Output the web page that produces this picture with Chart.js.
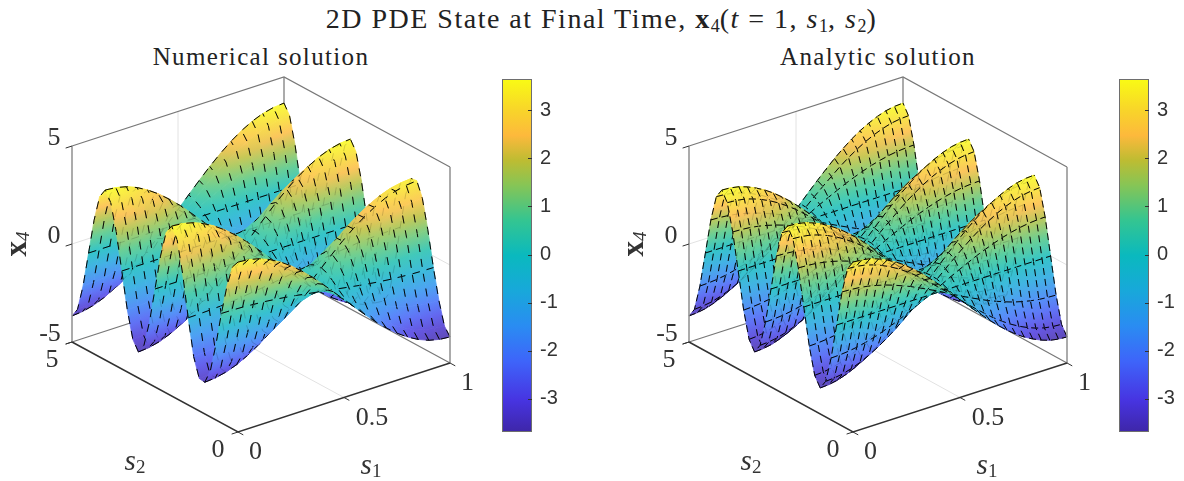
<!DOCTYPE html>
<html>
<head>
<meta charset="utf-8">
<script src="https://cdn.jsdelivr.net/npm/chart.js@4/dist/chart.umd.js"></script>
<style>
  body { margin: 0; background: #fff; }
  #page { position: relative; width: 1184px; height: 481px; overflow: hidden; }
  canvas { position: absolute; }
  .head { position: absolute; text-align: center; white-space: nowrap; color: #222;
          font-family: "Liberation Serif", serif; font-size: 25px; letter-spacing: 1.35px; line-height: 30px; }
  .head.main { font-size: 28px; letter-spacing: 1.5px; }
  .head sub { font-size: 18px; vertical-align: -4px; line-height: 0; letter-spacing: 0; }
</style>
</head>
<body>
<div id="page">
  <div class="head main" style="left:0;width:1203px;top:4px">2D PDE State at Final Time, <b>x</b><sub>4</sub>(<i>t</i> = 1, <i>s</i><sub>1</sub>, <i>s</i><sub>2</sub>)</div>
  <div class="head" style="left:0;width:522px;top:42px">Numerical solution</div>
  <div class="head" style="left:0;width:1756px;top:42px">Analytic solution</div>
  <canvas id="numerical" width="495" height="481" style="left:0;top:0"></canvas>
  <canvas id="analytic" width="500" height="481" style="left:610px;top:0"></canvas>
  <canvas id="barLeft" width="80" height="353" style="left:502px;top:79px"></canvas>
  <canvas id="barRight" width="65" height="353" style="left:1119px;top:79px"></canvas>
</div>
<script>
const s2Grid = [0,.167,.333,.5,.667,.833,1,1.167,1.333,1.5,1.667,1.833,2,2.167,2.333,2.5,2.667,2.833,3,3.167,3.333,3.5,3.667,3.833,4,4.167,4.333,4.5,4.667,4.833,5];
const s1Numerical = [0,.05,.1,.15,.2,.25,.3,.35,.4,.45,.5,.55,.6,.65,.7,.75,.8,.85,.9,.95,1];
const s1Analytic = [0,.04,.08,.12,.16,.2,.24,.28,.32,.36,.4,.44,.48,.52,.56,.6,.64,.68,.72,.76,.8,.84,.88,.92,.96,1];

const s1Ticks = [0, 0.5, 1];
const s2Ticks = [0, 5];
const zTicks = [-5, 0, 5];
const colorbarTicks = [-3, -2, -1, 0, 1, 2, 3];
const colorbarMin = -3.69;
const colorbarMax = 3.65;

// x4, one row per s1 value
const numericalZ = [
[3.67,3.27,2.13,.59,-1.17,-2.64,-3.38,-3.34,-2.39,-.55,1.54,3.12,3.67,3.18,1.84,0,-1.84,-3.18,-3.67,-3.18,-1.84,0,1.84,3.18,3.67,3.18,1.84,0,-1.84,-3.18,-3.67],
[3.62,3.22,2.10,.58,-1.16,-2.61,-3.33,-3.29,-2.35,-.54,1.52,3.08,3.62,3.13,1.81,0,-1.81,-3.13,-3.62,-3.13,-1.81,0,1.81,3.13,3.62,3.13,1.81,0,-1.81,-3.13,-3.62],
[3.49,3.11,2.02,.56,-1.12,-2.51,-3.21,-3.18,-2.27,-.52,1.47,2.97,3.49,3.02,1.75,0,-1.75,-3.02,-3.49,-3.02,-1.75,0,1.75,3.02,3.49,3.02,1.75,0,-1.75,-3.02,-3.49],
[3.27,2.91,1.90,.52,-1.05,-2.35,-3.01,-2.98,-2.13,-.49,1.37,2.78,3.27,2.83,1.64,0,-1.64,-2.83,-3.27,-2.83,-1.64,0,1.64,2.83,3.27,2.83,1.64,0,-1.64,-2.83,-3.27],
[2.97,2.64,1.72,.48,-.95,-2.14,-2.73,-2.70,-1.93,-.45,1.25,2.52,2.97,2.57,1.49,0,-1.49,-2.57,-2.97,-2.57,-1.49,0,1.49,2.57,2.97,2.57,1.49,0,-1.49,-2.57,-2.97],
[2.60,2.31,1.51,.42,-.83,-1.87,-2.39,-2.37,-1.69,-.39,1.09,2.21,2.60,2.25,1.30,0,-1.30,-2.25,-2.60,-2.25,-1.30,0,1.30,2.25,2.60,2.25,1.30,0,-1.30,-2.25,-2.60],
[2.16,1.92,1.25,.35,-.69,-1.56,-1.99,-1.97,-1.40,-.32,.91,1.84,2.16,1.87,1.08,0,-1.08,-1.87,-2.16,-1.87,-1.08,0,1.08,1.87,2.16,1.87,1.08,0,-1.08,-1.87,-2.16],
[1.67,1.49,.97,.27,-.53,-1.20,-1.54,-1.52,-1.09,-.25,.70,1.42,1.67,1.45,.84,0,-.84,-1.45,-1.67,-1.45,-.84,0,.84,1.45,1.67,1.45,.84,0,-.84,-1.45,-1.67],
[1.13,1.01,.66,.18,-.36,-.81,-1.04,-1.03,-.73,-.17,.47,.96,1.13,.98,.57,0,-.57,-.98,-1.13,-.98,-.57,0,.57,.98,1.13,.98,.57,0,-.57,-.98,-1.13],
[.57,.51,.33,.09,-.18,-.41,-.52,-.52,-.37,-.09,.24,.48,.57,.49,.29,0,-.29,-.49,-.57,-.49,-.29,0,.29,.49,.57,.49,.29,0,-.29,-.49,-.57],
[0,0,0,0,0,0,0,0,0,0,0,0,0,0,0,0,0,0,0,0,0,0,0,0,0,0,0,0,0,0,0],
[-.57,-.51,-.33,-.09,.18,.41,.52,.52,.37,.09,-.24,-.48,-.57,-.49,-.29,0,.29,.49,.57,.49,.29,0,-.29,-.49,-.57,-.49,-.29,0,.29,.49,.57],
[-1.13,-1.01,-.66,-.18,.36,.81,1.04,1.03,.73,.17,-.47,-.96,-1.13,-.98,-.57,0,.57,.98,1.13,.98,.57,0,-.57,-.98,-1.13,-.98,-.57,0,.57,.98,1.13],
[-1.67,-1.49,-.97,-.27,.53,1.20,1.54,1.52,1.09,.25,-.70,-1.42,-1.67,-1.45,-.84,0,.84,1.45,1.67,1.45,.84,0,-.84,-1.45,-1.67,-1.45,-.84,0,.84,1.45,1.67],
[-2.16,-1.92,-1.25,-.35,.69,1.56,1.99,1.97,1.40,.32,-.91,-1.84,-2.16,-1.87,-1.08,0,1.08,1.87,2.16,1.87,1.08,0,-1.08,-1.87,-2.16,-1.87,-1.08,0,1.08,1.87,2.16],
[-2.60,-2.31,-1.51,-.42,.83,1.87,2.39,2.37,1.69,.39,-1.09,-2.21,-2.60,-2.25,-1.30,0,1.30,2.25,2.60,2.25,1.30,0,-1.30,-2.25,-2.60,-2.25,-1.30,0,1.30,2.25,2.60],
[-2.97,-2.64,-1.72,-.48,.95,2.14,2.73,2.70,1.93,.45,-1.25,-2.52,-2.97,-2.57,-1.49,0,1.49,2.57,2.97,2.57,1.49,0,-1.49,-2.57,-2.97,-2.57,-1.49,0,1.49,2.57,2.97],
[-3.27,-2.91,-1.90,-.52,1.05,2.35,3.01,2.98,2.13,.49,-1.37,-2.78,-3.27,-2.83,-1.64,0,1.64,2.83,3.27,2.83,1.64,0,-1.64,-2.83,-3.27,-2.83,-1.64,0,1.64,2.83,3.27],
[-3.49,-3.11,-2.02,-.56,1.12,2.51,3.21,3.18,2.27,.52,-1.47,-2.97,-3.49,-3.02,-1.75,0,1.75,3.02,3.49,3.02,1.75,0,-1.75,-3.02,-3.49,-3.02,-1.75,0,1.75,3.02,3.49],
[-3.62,-3.22,-2.10,-.58,1.16,2.61,3.33,3.29,2.35,.54,-1.52,-3.08,-3.62,-3.13,-1.81,0,1.81,3.13,3.62,3.13,1.81,0,-1.81,-3.13,-3.62,-3.13,-1.81,0,1.81,3.13,3.62],
[-3.67,-3.27,-2.13,-.59,1.17,2.64,3.38,3.34,2.39,.55,-1.54,-3.12,-3.67,-3.18,-1.84,0,1.84,3.18,3.67,3.18,1.84,0,-1.84,-3.18,-3.67,-3.18,-1.84,0,1.84,3.18,3.67]
];

// x4, one row per s1 value
const analyticZ = [
[3.67,3.18,1.84,0,-1.84,-3.18,-3.67,-3.18,-1.84,0,1.84,3.18,3.67,3.18,1.84,0,-1.84,-3.18,-3.67,-3.18,-1.84,0,1.84,3.18,3.67,3.18,1.84,0,-1.84,-3.18,-3.67],
[3.64,3.15,1.82,0,-1.82,-3.15,-3.64,-3.15,-1.82,0,1.82,3.15,3.64,3.15,1.82,0,-1.82,-3.15,-3.64,-3.15,-1.82,0,1.82,3.15,3.64,3.15,1.82,0,-1.82,-3.15,-3.64],
[3.56,3.08,1.78,0,-1.78,-3.08,-3.56,-3.08,-1.78,0,1.78,3.08,3.56,3.08,1.78,0,-1.78,-3.08,-3.56,-3.08,-1.78,0,1.78,3.08,3.56,3.08,1.78,0,-1.78,-3.08,-3.56],
[3.41,2.95,1.71,0,-1.71,-2.95,-3.41,-2.95,-1.71,0,1.71,2.95,3.41,2.95,1.71,0,-1.71,-2.95,-3.41,-2.95,-1.71,0,1.71,2.95,3.41,2.95,1.71,0,-1.71,-2.95,-3.41],
[3.21,2.78,1.61,0,-1.61,-2.78,-3.21,-2.78,-1.61,0,1.61,2.78,3.21,2.78,1.61,0,-1.61,-2.78,-3.21,-2.78,-1.61,0,1.61,2.78,3.21,2.78,1.61,0,-1.61,-2.78,-3.21],
[2.97,2.57,1.49,0,-1.49,-2.57,-2.97,-2.57,-1.49,0,1.49,2.57,2.97,2.57,1.49,0,-1.49,-2.57,-2.97,-2.57,-1.49,0,1.49,2.57,2.97,2.57,1.49,0,-1.49,-2.57,-2.97],
[2.68,2.32,1.34,0,-1.34,-2.32,-2.68,-2.32,-1.34,0,1.34,2.32,2.68,2.32,1.34,0,-1.34,-2.32,-2.68,-2.32,-1.34,0,1.34,2.32,2.68,2.32,1.34,0,-1.34,-2.32,-2.68],
[2.34,2.03,1.17,0,-1.17,-2.03,-2.34,-2.03,-1.17,0,1.17,2.03,2.34,2.03,1.17,0,-1.17,-2.03,-2.34,-2.03,-1.17,0,1.17,2.03,2.34,2.03,1.17,0,-1.17,-2.03,-2.34],
[1.97,1.71,.99,0,-.99,-1.71,-1.97,-1.71,-.99,0,.99,1.71,1.97,1.71,.99,0,-.99,-1.71,-1.97,-1.71,-.99,0,.99,1.71,1.97,1.71,.99,0,-.99,-1.71,-1.97],
[1.56,1.35,.78,0,-.78,-1.35,-1.56,-1.35,-.78,0,.78,1.35,1.56,1.35,.78,0,-.78,-1.35,-1.56,-1.35,-.78,0,.78,1.35,1.56,1.35,.78,0,-.78,-1.35,-1.56],
[1.13,.98,.57,0,-.57,-.98,-1.13,-.98,-.57,0,.57,.98,1.13,.98,.57,0,-.57,-.98,-1.13,-.98,-.57,0,.57,.98,1.13,.98,.57,0,-.57,-.98,-1.13],
[.69,.60,.35,0,-.35,-.60,-.69,-.60,-.35,0,.35,.60,.69,.60,.35,0,-.35,-.60,-.69,-.60,-.35,0,.35,.60,.69,.60,.35,0,-.35,-.60,-.69],
[.23,.20,.12,0,-.12,-.20,-.23,-.20,-.12,0,.12,.20,.23,.20,.12,0,-.12,-.20,-.23,-.20,-.12,0,.12,.20,.23,.20,.12,0,-.12,-.20,-.23],
[-.23,-.20,-.12,0,.12,.20,.23,.20,.12,0,-.12,-.20,-.23,-.20,-.12,0,.12,.20,.23,.20,.12,0,-.12,-.20,-.23,-.20,-.12,0,.12,.20,.23],
[-.69,-.60,-.35,0,.35,.60,.69,.60,.35,0,-.35,-.60,-.69,-.60,-.35,0,.35,.60,.69,.60,.35,0,-.35,-.60,-.69,-.60,-.35,0,.35,.60,.69],
[-1.13,-.98,-.57,0,.57,.98,1.13,.98,.57,0,-.57,-.98,-1.13,-.98,-.57,0,.57,.98,1.13,.98,.57,0,-.57,-.98,-1.13,-.98,-.57,0,.57,.98,1.13],
[-1.56,-1.35,-.78,0,.78,1.35,1.56,1.35,.78,0,-.78,-1.35,-1.56,-1.35,-.78,0,.78,1.35,1.56,1.35,.78,0,-.78,-1.35,-1.56,-1.35,-.78,0,.78,1.35,1.56],
[-1.97,-1.71,-.99,0,.99,1.71,1.97,1.71,.99,0,-.99,-1.71,-1.97,-1.71,-.99,0,.99,1.71,1.97,1.71,.99,0,-.99,-1.71,-1.97,-1.71,-.99,0,.99,1.71,1.97],
[-2.34,-2.03,-1.17,0,1.17,2.03,2.34,2.03,1.17,0,-1.17,-2.03,-2.34,-2.03,-1.17,0,1.17,2.03,2.34,2.03,1.17,0,-1.17,-2.03,-2.34,-2.03,-1.17,0,1.17,2.03,2.34],
[-2.68,-2.32,-1.34,0,1.34,2.32,2.68,2.32,1.34,0,-1.34,-2.32,-2.68,-2.32,-1.34,0,1.34,2.32,2.68,2.32,1.34,0,-1.34,-2.32,-2.68,-2.32,-1.34,0,1.34,2.32,2.68],
[-2.97,-2.57,-1.49,0,1.49,2.57,2.97,2.57,1.49,0,-1.49,-2.57,-2.97,-2.57,-1.49,0,1.49,2.57,2.97,2.57,1.49,0,-1.49,-2.57,-2.97,-2.57,-1.49,0,1.49,2.57,2.97],
[-3.21,-2.78,-1.61,0,1.61,2.78,3.21,2.78,1.61,0,-1.61,-2.78,-3.21,-2.78,-1.61,0,1.61,2.78,3.21,2.78,1.61,0,-1.61,-2.78,-3.21,-2.78,-1.61,0,1.61,2.78,3.21],
[-3.41,-2.95,-1.71,0,1.71,2.95,3.41,2.95,1.71,0,-1.71,-2.95,-3.41,-2.95,-1.71,0,1.71,2.95,3.41,2.95,1.71,0,-1.71,-2.95,-3.41,-2.95,-1.71,0,1.71,2.95,3.41],
[-3.56,-3.08,-1.78,0,1.78,3.08,3.56,3.08,1.78,0,-1.78,-3.08,-3.56,-3.08,-1.78,0,1.78,3.08,3.56,3.08,1.78,0,-1.78,-3.08,-3.56,-3.08,-1.78,0,1.78,3.08,3.56],
[-3.64,-3.15,-1.82,0,1.82,3.15,3.64,3.15,1.82,0,-1.82,-3.15,-3.64,-3.15,-1.82,0,1.82,3.15,3.64,3.15,1.82,0,-1.82,-3.15,-3.64,-3.15,-1.82,0,1.82,3.15,3.64],
[-3.67,-3.18,-1.84,0,1.84,3.18,3.67,3.18,1.84,0,-1.84,-3.18,-3.67,-3.18,-1.84,0,1.84,3.18,3.67,3.18,1.84,0,-1.84,-3.18,-3.67,-3.18,-1.84,0,1.84,3.18,3.67]
];

// parula as it shows on the colorbar, bottom to top
const parulaStops = [
  [0, 62, 38, 168], [.09, 71, 52, 225], [.2, 62, 100, 250], [.3, 42, 140, 242], [.4, 24, 168, 218],
  [.5, 10, 185, 190], [.6, 52, 197, 145], [.7, 135, 197, 85], [.77, 190, 188, 50], [.84, 253, 185, 60],
  [.91, 248, 212, 42], [1, 249, 251, 20]
];
const faceLighten = 0.17;

function parula(t, lighten) {
  t = Math.min(1, Math.max(0, t));
  let j = 0;
  while (j < parulaStops.length - 2 && t > parulaStops[j + 1][0]) j++;
  const a = parulaStops[j], b = parulaStops[j + 1];
  const u = (t - a[0]) / (b[0] - a[0]);
  const c = [1, 2, 3].map((n) => a[n] + (b[n] - a[n]) * u).map((v) => Math.round(v + (255 - v) * lighten));
  return `rgb(${c[0]},${c[1]},${c[2]})`;
}
const zColor = (z) => parula((z - colorbarMin) / (colorbarMax - colorbarMin), faceLighten);

// box orientation in the picture, one per panel
const projections = {
  numerical: { x0: 238, y0: 432, s1x: 212, s2x: 33.2, s1y: 69, s2y: 18, zy: 19.6 },
  analytic: { x0: 243, y0: 432, s1x: 214, s2x: 32.8, s1y: 69, s2y: 18, zy: 19.6 },
};

function project(p, s1, s2, z) {
  return {
    x: p.x0 + p.s1x * s1 - p.s2x * s2,
    y: p.y0 - p.s1y * s1 - p.s2y * s2 - p.zy * (z + 5),
  };
}

const gradientCtx = document.createElement("canvas").getContext("2d");

// colour of a quad runs along the z gradient of its plane, so the bands stay smooth
function faceFill(pts, zs) {
  const ux = (pts[1].x - pts[0].x + pts[2].x - pts[3].x) / 2;
  const uy = (pts[1].y - pts[0].y + pts[2].y - pts[3].y) / 2;
  const vx = (pts[3].x - pts[0].x + pts[2].x - pts[1].x) / 2;
  const vy = (pts[3].y - pts[0].y + pts[2].y - pts[1].y) / 2;
  const dzu = (zs[1] - zs[0] + zs[2] - zs[3]) / 2;
  const dzv = (zs[3] - zs[0] + zs[2] - zs[1]) / 2;
  const det = ux * vy - uy * vx;
  const zMid = (zs[0] + zs[1] + zs[2] + zs[3]) / 4;
  if (Math.abs(det) < 1) return zColor(zMid);
  const gx = (dzu * vy - dzv * uy) / det;
  const gy = (ux * dzv - vx * dzu) / det;
  const g2 = gx * gx + gy * gy;
  if (g2 < 1e-6) return zColor(zMid);
  const cx = (pts[0].x + pts[1].x + pts[2].x + pts[3].x) / 4;
  const cy = (pts[0].y + pts[1].y + pts[2].y + pts[3].y) / 4;
  const zLo = Math.min(...zs), zHi = Math.max(...zs);
  const grad = gradientCtx.createLinearGradient(
    cx + (zLo - zMid) * gx / g2, cy + (zLo - zMid) * gy / g2,
    cx + (zHi - zMid) * gx / g2, cy + (zHi - zMid) * gy / g2
  );
  grad.addColorStop(0, zColor(zLo));
  grad.addColorStop(0.5, zColor((zLo + zHi) / 2));
  grad.addColorStop(1, zColor(zHi));
  return grad;
}

function lineSet(points, color, width, dash, offset) {
  return {
    data: points, showLine: true, pointRadius: 0, tension: 0, fill: false,
    borderColor: color, borderWidth: width, borderDash: dash || [], borderDashOffset: offset || 0,
  };
}

// back to front: walls, then the surface quad by quad, then the front edges
function buildLayers(p, s1Grid, zGrid, s2LineEvery, dash) {
  const layers = [];
  const at = (a, b, c) => project(p, a, b, c);
  const wall = "rgb(226,226,226)", back = "rgb(120,120,120)", vert = "rgb(150,150,150)", front = "rgb(50,50,50)";

  layers.push(lineSet([at(0.5, 0, -5), at(0.5, 5, -5)], wall, 1));
  layers.push(lineSet([at(0.5, 5, -5), at(0.5, 5, 5)], wall, 1));
  layers.push(lineSet([at(0, 5, 0), at(1, 5, 0), at(1, 0, 0)], wall, 1));
  layers.push(lineSet([at(0, 5, -5), at(1, 5, -5), at(1, 0, -5)], back, 1.2));
  layers.push(lineSet([at(1, 5, -5), at(1, 5, 5)], vert, 1.6));
  layers.push(lineSet([at(0, 5, 5), at(1, 5, 5), at(1, 0, 5)], back, 1.2));

  const n1 = s1Grid.length, n2 = s2Grid.length;
  const pt = s1Grid.map((a, i) => s2Grid.map((b, k) => at(a, b, zGrid[i][k])));
  const dist = (a, b) => Math.hypot(a.x - b.x, a.y - b.y);

  // dash phase carried along each mesh line so the dashes do not restart per quad
  const alongS2 = pt.map((row) => {
    let sum = 0;
    return row.map((q, k) => (k ? (sum += dist(q, row[k - 1])) : 0));
  });
  const alongS1 = s2Grid.map((_, k) => {
    let sum = 0;
    return s1Grid.map((_, i) => (i ? (sum += dist(pt[i][k], pt[i - 1][k])) : 0));
  });
  const meshColor = "rgba(0,0,0,0.95)";
  const s1Edge = (i, k) => lineSet([pt[i][k], pt[i][k + 1]], meshColor, 1, dash, alongS2[i][k]);
  const s2Edge = (i, k) => lineSet([pt[i][k], pt[i + 1][k]], meshColor, 1, dash, alongS1[k][i]);

  for (let i = n1 - 2; i >= 0; i--) {
    for (let k = n2 - 2; k >= 0; k--) {
      const corners = [pt[i][k], pt[i + 1][k], pt[i + 1][k + 1], pt[i][k + 1]];
      const zs = [zGrid[i][k], zGrid[i + 1][k], zGrid[i + 1][k + 1], zGrid[i][k + 1]];
      const fillStyle = faceFill(corners, zs);
      layers.push({
        data: [...corners, corners[0]], showLine: true, pointRadius: 0, tension: 0, fill: "shape",
        backgroundColor: fillStyle, borderColor: fillStyle, borderWidth: 0.8,
      });
      layers.push(s1Edge(i + 1, k));
      if ((k + 1) % s2LineEvery === 0) layers.push(s2Edge(i, k + 1));
      if (i === 0) layers.push(s1Edge(0, k));
      if (k === 0) layers.push(s2Edge(i, 0));
    }
  }

  // surface is see-through in the reference, hidden mesh shows faintly
  const ghost = "rgba(0,0,0,0.15)";
  pt.forEach((row) => layers.push(lineSet(row, ghost, 1, dash)));
  s2Grid.forEach((_, k) => {
    if (k % s2LineEvery === 0) layers.push(lineSet(pt.map((row) => row[k]), ghost, 1, dash));
  });

  layers.push(lineSet([at(0, 5, -5), at(0, 5, 5)], vert, 1.6));
  layers.push(lineSet([at(1, 0, -5), at(1, 0, 5)], vert, 1.6));
  layers.push(lineSet([at(0, 5, -5), at(0, 0, -5), at(1, 0, -5)], front, 1.5));

  s1Ticks.forEach((v) => layers.push(lineSet([at(v, 0, -5), at(v, -0.16, -5)], front, 1)));
  s2Ticks.forEach((v) => layers.push(lineSet([at(0, v, -5), at(-0.03, v, -5)], front, 1)));
  zTicks.forEach((v) => layers.push(lineSet([at(0, 5, v), at(-0.03, 5, v)], front, 1)));

  // first dataset in the list is drawn last
  return layers.reverse();
}

function mathLabel(ctx, main, mainFont, sub, subFont, x, y) {
  ctx.font = mainFont;
  const w1 = ctx.measureText(main).width;
  ctx.font = subFont;
  const w2 = ctx.measureText(sub).width;
  ctx.textAlign = "left";
  ctx.font = mainFont;
  ctx.fillText(main, x - (w1 + w2) / 2, y);
  ctx.font = subFont;
  ctx.fillText(sub, x - (w1 + w2) / 2 + w1, y + 6);
}

const axisText = {
  id: "axisText",
  afterDraw(chart, _, opts) {
    const p = opts.projection;
    const { x: sx, y: sy } = chart.scales;
    const place = (a, b, c, dx, dy) => {
      const q = project(p, a, b, c);
      return [sx.getPixelForValue(q.x) + dx, sy.getPixelForValue(q.y) + dy];
    };
    const ctx = chart.ctx;
    ctx.save();
    ctx.fillStyle = "#333";
    ctx.textBaseline = "middle";
    ctx.textAlign = "center";
    ctx.font = '26px "Liberation Serif"';
    zTicks.forEach((v) => ctx.fillText(String(v), ...place(0, 5, v, v < 0 ? -22 : -18, -7.5)));
    s2Ticks.forEach((v) => ctx.fillText(String(v), ...place(0, v, -5, -20, 18.5)));
    s1Ticks.forEach((v) => {
      const off = v === 0.5 ? [28, 20.5] : [17.5, 20.5];
      ctx.fillText(String(v), ...place(v, 0, -5, off[0], off[1]));
    });
    const sMain = 'italic 29px "Liberation Serif"', sSub = '19px "Liberation Serif"';
    mathLabel(ctx, "s", sMain, "1", sSub, ...place(0.5, 0, -5, 27, 69));
    mathLabel(ctx, "s", sMain, "2", sSub, ...place(0, 2.5, -5, -20, 75));
    const [lx, ly] = place(0, 5, 0, -54, 0);
    ctx.translate(lx, ly);
    ctx.rotate(-Math.PI / 2);
    mathLabel(ctx, "x", 'bold 31px "Liberation Serif"', "4", 'italic 19px "Liberation Serif"', 0, 0);
    ctx.restore();
  },
};

function surfaceChart(id, p, s1Grid, zGrid, s2LineEvery, dash) {
  const canvas = document.getElementById(id);
  return new Chart(canvas, {
    type: "scatter",
    data: { datasets: buildLayers(p, s1Grid, zGrid, s2LineEvery, dash) },
    options: {
      responsive: false,
      animation: false,
      events: [],
      layout: { padding: 0 },
      scales: {
        x: { type: "linear", display: false, min: 0, max: canvas.width },
        y: { type: "linear", display: false, min: 0, max: canvas.height, reverse: true },
      },
      plugins: { legend: { display: false }, tooltip: { enabled: false }, axisText: { projection: p } },
    },
    plugins: [axisText],
  });
}

const barFrame = {
  id: "barFrame",
  afterDraw(chart) {
    const { ctx, chartArea: a, scales } = chart;
    ctx.save();
    ctx.strokeStyle = "rgb(110,110,110)";
    ctx.lineWidth = 1;
    ctx.strokeRect(a.left + 0.5, a.top + 0.5, a.width - 1, a.height - 1);
    ctx.strokeStyle = "rgb(50,50,50)";
    colorbarTicks.forEach((v) => {
      const y = Math.round(scales.y.getPixelForValue(v)) + 0.5;
      ctx.beginPath();
      ctx.moveTo(a.right - 4, y);
      ctx.lineTo(a.right, y);
      ctx.stroke();
    });
    ctx.restore();
  },
};

function colorbarChart(id) {
  return new Chart(document.getElementById(id), {
    type: "bar",
    data: {
      labels: [""],
      datasets: [{
        data: [[colorbarMin, colorbarMax]],
        barPercentage: 1,
        categoryPercentage: 1,
        backgroundColor(ctx) {
          const a = ctx.chart.chartArea;
          if (!a) return "#888";
          const g = ctx.chart.ctx.createLinearGradient(0, a.bottom, 0, a.top);
          parulaStops.forEach((s) => g.addColorStop(s[0], parula(s[0], 0)));
          return g;
        },
      }],
    },
    options: {
      responsive: false,
      animation: false,
      events: [],
      layout: { padding: 0 },
      scales: {
        x: { display: false },
        y: {
          position: "right",
          min: colorbarMin,
          max: colorbarMax,
          grid: { display: false, drawTicks: false },
          border: { display: false },
          afterBuildTicks(axis) { axis.ticks = colorbarTicks.map((value) => ({ value })); },
          afterFit(axis) { axis.width = axis.chart.width - 30; axis.paddingTop = 0; axis.paddingBottom = 0; },
          ticks: { padding: 8, color: "#333", font: { family: "Liberation Sans", size: 20 } },
        },
      },
      plugins: { legend: { display: false }, tooltip: { enabled: false } },
    },
    plugins: [barFrame],
  });
}

surfaceChart("numerical", projections.numerical, s1Numerical, numericalZ, 3, [8, 7]);
surfaceChart("analytic", projections.analytic, s1Analytic, analyticZ, 1, [7, 4]);
colorbarChart("barLeft");
colorbarChart("barRight");
</script>
</body>
</html>
